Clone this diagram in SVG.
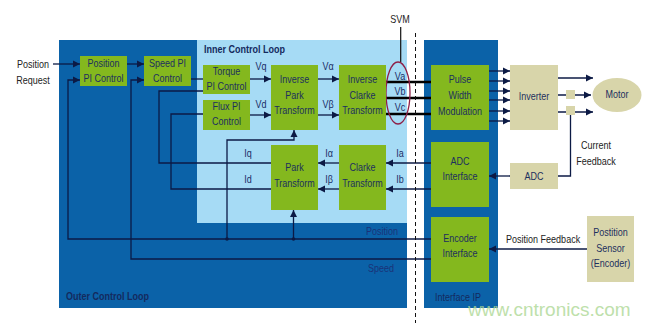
<svg xmlns="http://www.w3.org/2000/svg" width="649" height="323" viewBox="0 0 649 323">
<style>
text{font-family:"Liberation Sans",Arial,sans-serif;font-size:11px;fill:#1c2f5e;text-anchor:middle;transform-box:fill-box;transform-origin:center;transform:scaleX(0.82)}
.lbl{fill:#1a2d66}
.out{fill:#222}
.st{text-anchor:start;transform-origin:left center}
.bold{font-weight:bold}
.g{fill:#84b81e}
.b{fill:#d8d5aa}
.ln{fill:none;stroke:#0c1a45;stroke-width:1.3}
.thick{fill:none;stroke:#000;stroke-width:2.6}
.wm{font-size:19px;fill:#a9d68f;opacity:0.75;text-anchor:start;transform:none}
</style>
<defs>
<marker id="ah" markerWidth="8" markerHeight="8" refX="7" refY="4" orient="auto" markerUnits="userSpaceOnUse">
<path d="M0,0.5 L7,4 L0,7.5 Z" fill="#0c1a45"/>
</marker>
</defs>
<rect width="649" height="323" fill="#fff"/>
<g id="outer-loop">
<rect x="59" y="40" width="348" height="268" fill="#0b62a8"/>
<text class="st bold" x="66" y="300" style="fill:#142a5e">Outer Control Loop</text>
</g>
<g id="inner-loop">
<rect x="197" y="40" width="210" height="183" fill="#a6dbf5"/>
<text class="st bold" x="204" y="53" style="fill:#142a5e">Inner Control Loop</text>
</g>
<g id="interface-ip">
<rect x="424" y="40" width="74" height="268" fill="#0b62a8"/>
<text class="st" x="435" y="301" style="fill:#142a5e">Interface IP</text>
</g>
<g id="labels">
<text class="out" x="33" y="68">Position</text>
<text class="out" x="33" y="84">Request</text>
<text class="out" x="400" y="23">SVM</text>
<text class="lbl" x="382" y="235" style="fill:#1a3278">Position</text>
<text class="lbl" x="381" y="272" style="fill:#1a3278">Speed</text>
<text class="lbl" x="261" y="70">Vq</text>
<text class="lbl" x="261" y="108">Vd</text>
<text class="lbl" x="328" y="70">Vα</text>
<text class="lbl" x="328" y="108">Vβ</text>
<text class="lbl" x="400" y="80">Va</text>
<text class="lbl" x="400" y="95">Vb</text>
<text class="lbl" x="400" y="111">Vc</text>
<text class="lbl" x="248" y="157">Iq</text>
<text class="lbl" x="248" y="183">Id</text>
<text class="lbl" x="329" y="157">Iα</text>
<text class="lbl" x="329" y="183">Iβ</text>
<text class="lbl" x="400" y="157">Ia</text>
<text class="lbl" x="400" y="183">Ib</text>
<text class="out" x="596" y="149">Current</text>
<text class="out" x="596" y="165">Feedback</text>
<text class="out" x="543" y="243">Position Feedback</text>
</g>
<g id="connectors">
<path class="ln" d="M53,64 H80" marker-end="url(#ah)"/>
<path class="ln" d="M127,64 H144" marker-end="url(#ah)"/>
<path class="ln" d="M191,79 H203"/>
<path class="ln" d="M271,163 H159 V91 H203"/>
<path class="ln" d="M271,189 H171 V114 H203"/>
<path class="ln" d="M250,79 H271" marker-end="url(#ah)"/>
<path class="ln" d="M250,115 H271" marker-end="url(#ah)"/>
<path class="ln" d="M318,79 H339" marker-end="url(#ah)"/>
<path class="ln" d="M318,115 H339" marker-end="url(#ah)"/>
<path class="thick" d="M386,82 H431 M386,98 H431 M386,114 H431"/>
<path class="ln" d="M489,71 H510" marker-end="url(#ah)"/>
<path class="ln" d="M489,81 H510" marker-end="url(#ah)"/>
<path class="ln" d="M489,91 H510" marker-end="url(#ah)"/>
<path class="ln" d="M489,100 H510" marker-end="url(#ah)"/>
<path class="ln" d="M489,111 H510" marker-end="url(#ah)"/>
<path class="ln" d="M489,121 H510" marker-end="url(#ah)"/>
<path class="ln" d="M558,78 H593" marker-end="url(#ah)"/>
<path class="ln" d="M558,95 H591" marker-end="url(#ah)"/>
<path class="ln" d="M558,112 H593" marker-end="url(#ah)"/>
<path class="ln" d="M570.5,115 V176 H558"/>
<path class="ln" d="M510,176 H489" marker-end="url(#ah)"/>
<path class="ln" d="M587,249 H489" marker-end="url(#ah)"/>
<path class="ln" d="M431,163 H386" marker-end="url(#ah)"/>
<path class="ln" d="M431,189 H386" marker-end="url(#ah)"/>
<path class="ln" d="M339,163 H318" marker-end="url(#ah)"/>
<path class="ln" d="M339,189 H318" marker-end="url(#ah)"/>
<path class="ln" d="M431,239 H68 V80 H80" marker-end="url(#ah)"/>
<path class="ln" d="M431,259 H131 V80 H144" marker-end="url(#ah)"/>
<path class="ln" d="M227,239 V140 H294 V130" marker-end="url(#ah)"/>
<path class="ln" d="M293.5,239 V210" marker-end="url(#ah)"/>
<circle cx="227" cy="239" r="1.8" fill="#0c1a45"/>
<circle cx="293.5" cy="239" r="1.8" fill="#0c1a45"/>
<path d="M400.7,27 V62" stroke="#111" stroke-width="1.2"/>
<ellipse cx="398" cy="93" rx="12" ry="31" fill="none" stroke="#8e2048" stroke-width="1.3"/>
<path d="M415.5,33 V323" stroke="#111" stroke-width="1" stroke-dasharray="4,3"/>
</g>
<g id="position-pi"><rect class="g" x="80" y="56" width="47" height="30"/><text x="103.5" y="67">Position</text><text x="103.5" y="82">PI Control</text></g>
<g id="speed-pi"><rect class="g" x="144" y="56" width="47" height="30"/><text x="167.5" y="67">Speed PI</text><text x="167.5" y="82">Control</text></g>
<g id="torque-pi"><rect class="g" x="203" y="65" width="47" height="29"/><text x="226.5" y="75">Torque</text><text x="226.5" y="90">PI Control</text></g>
<g id="flux-pi"><rect class="g" x="203" y="100" width="47" height="30"/><text x="226.5" y="110">Flux PI</text><text x="226.5" y="125">Control</text></g>
<g id="inverse-park"><rect class="g" x="271" y="65" width="47" height="65"/><text x="294.5" y="83">Inverse</text><text x="294.5" y="99">Park</text><text x="294.5" y="114">Transform</text></g>
<g id="inverse-clarke"><rect class="g" x="339" y="65" width="47" height="65"/><text x="362.5" y="83">Inverse</text><text x="362.5" y="99">Clarke</text><text x="362.5" y="114">Transform</text></g>
<g id="park"><rect class="g" x="271" y="145" width="47" height="65"/><text x="294.5" y="171">Park</text><text x="294.5" y="187">Transform</text></g>
<g id="clarke"><rect class="g" x="339" y="145" width="47" height="65"/><text x="362.5" y="171">Clarke</text><text x="362.5" y="187">Transform</text></g>
<g id="pwm"><rect class="g" x="431" y="65" width="58" height="65"/><text x="460" y="83">Pulse</text><text x="460" y="99">Width</text><text x="460" y="115">Modulation</text></g>
<g id="adc-interface"><rect class="g" x="431" y="142" width="58" height="65"/><text x="460" y="165">ADC</text><text x="460" y="180">Interface</text></g>
<g id="encoder-interface"><rect class="g" x="431" y="217" width="58" height="65"/><text x="460" y="242">Encoder</text><text x="460" y="257">Interface</text></g>
<g id="inverter"><rect class="b" x="510" y="65" width="48" height="65"/><text x="534" y="100">Inverter</text></g>
<g id="sensors"><rect class="b" x="566" y="90" width="9" height="9"/><rect class="b" x="566" y="106" width="9" height="9"/></g>
<g id="motor"><ellipse class="b" cx="617" cy="95" rx="24.5" ry="17"/><text x="617" y="98">Motor</text></g>
<g id="adc"><rect class="b" x="510" y="163" width="48" height="26"/><text x="534" y="180">ADC</text></g>
<g id="position-sensor"><rect class="b" x="587" y="216" width="47" height="66"/><text x="610.5" y="236">Postition</text><text x="610.5" y="252">Sensor</text><text x="610.5" y="267">(Encoder)</text></g>
<text class="wm" x="468" y="316">www.cntronics.com</text>
</svg>
